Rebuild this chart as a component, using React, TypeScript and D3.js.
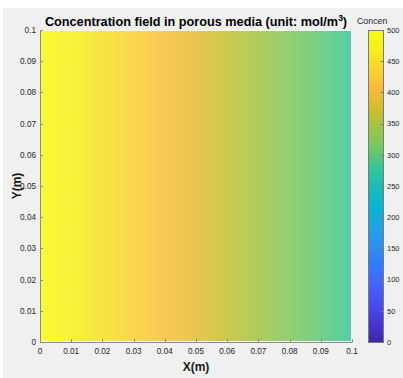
import React from "react";
import * as d3 from "d3";

// concentration profile along X (mol/m^3), nearly uniform in Y
const xNodes = [0, 0.01, 0.02, 0.03, 0.04, 0.05, 0.06, 0.07, 0.08, 0.09, 0.1];
const concValues = [495, 472, 452, 432, 413, 390, 367, 346, 325, 302, 282];

const xTicks = [0, 0.01, 0.02, 0.03, 0.04, 0.05, 0.06, 0.07, 0.08, 0.09, 0.1];
const yTicks = [0, 0.01, 0.02, 0.03, 0.04, 0.05, 0.06, 0.07, 0.08, 0.09, 0.1];
const cbTicks = [0, 50, 100, 150, 200, 250, 300, 350, 400, 450, 500];

// parula (every 4th entry of the 64 colour map)
const parula = [
  "#3e26a8", "#4538d5", "#484ef0", "#4563fd", "#327bfc", "#2b91ef",
  "#20a5e2", "#08b4d0", "#19bdb6", "#37c597", "#71c964", "#9dc445",
  "#d1bd2a", "#f8ba3e", "#f9d32e", "#f4ef1a", "#f9fb15",
];

const W = 403;
const H = 378;
const font = "'Liberation Sans', Arial, Helvetica, sans-serif";

export default function App() {
  const left = 40, right = 352, top = 30, bottom = 342;
  const x = d3.scaleLinear().domain([0, 0.1]).range([left, right]);
  const y = d3.scaleLinear().domain([0, 0.1]).range([bottom, top]);
  const cb = d3.scaleLinear().domain([0, 500]).range([bottom, top]);
  const cbX0 = 368, cbX1 = 383;

  const color = d3
    .scaleLinear<string>()
    .domain(parula.map((_, i) => (i / (parula.length - 1)) * 500))
    .range(parula)
    .interpolate(d3.interpolateRgb)
    .clamp(true);

  const fmt = (v: number) => (v === 0 ? "0" : d3.format("~g")(v));
  const fx0 = x(xNodes[0]) + 1;
  const fx1 = x(xNodes[xNodes.length - 1]) - 1;

  return (
    <div style={{ position: "absolute", left: 0, top: 0 }}>
      <svg width={W} height={H} style={{ display: "block" }} fontFamily={font}>
        <defs>
          <linearGradient id="field" x1="0" x2="1" y1="0" y2="0">
            {xNodes.map((xv, i) => (
              <stop
                key={i}
                offset={(x(xv) - x(0)) / (x(0.1) - x(0))}
                stopColor={color(concValues[i])}
              />
            ))}
          </linearGradient>
          <linearGradient id="cbar" x1="0" x2="0" y1="1" y2="0">
            {parula.map((c, i) => (
              <stop key={i} offset={i / (parula.length - 1)} stopColor={c} />
            ))}
          </linearGradient>
        </defs>
        <rect x={0} y={0} width={W} height={H} fill="#ffffff" />
        <rect x={3} y={8} width={W - 3} height={H - 8} fill="#f0f0f0" />

        {/* axes background and field */}
        <rect x={left} y={top} width={right - left} height={bottom - top} fill="#ffffff" />
        <rect
          x={fx0}
          y={y(0.1) + 1}
          width={fx1 - fx0}
          height={y(0) - y(0.1) - 2}
          fill="url(#field)"
          fillOpacity={0.86}
        />

        {/* axes lines */}
        <line x1={left + 0.5} x2={left + 0.5} y1={top} y2={bottom + 0.5} stroke="#8a8a8a" />
        <line x1={left} x2={right + 0.5} y1={bottom + 0.5} y2={bottom + 0.5} stroke="#8a8a8a" />
        {xTicks.map((t) => (
          <g key={"x" + t}>
            <line
              x1={Math.round(x(t)) + 0.5}
              x2={Math.round(x(t)) + 0.5}
              y1={bottom}
              y2={bottom - 3}
              stroke="#8a8a8a"
            />
            <text x={x(t)} y={354} fontSize={8.2} fill="#262626" textAnchor="middle">
              {fmt(t)}
            </text>
          </g>
        ))}
        {yTicks.map((t) => (
          <g key={"y" + t}>
            <line
              x1={left}
              x2={left + 3}
              y1={Math.round(y(t)) + 0.5}
              y2={Math.round(y(t)) + 0.5}
              stroke="#8a8a8a"
            />
            <text x={36} y={y(t) + 3} fontSize={8.2} fill="#262626" textAnchor="end">
              {fmt(t)}
            </text>
          </g>
        ))}

        {/* titles */}
        <text x={(left + right) / 2} y={25.5} fontSize={12.7} fontWeight="bold" fill="#000" textAnchor="middle">
          Concentration field in porous media (unit: mol/m
          <tspan dy={-5} fontSize={8.5}>3</tspan>
          <tspan dy={5}>)</tspan>
        </text>
        <text x={(left + right) / 2} y={371} fontSize={12} fontWeight="bold" fill="#1a1a1a" textAnchor="middle">
          X(m)
        </text>
        <text
          transform={`translate(21,${(top + bottom) / 2}) rotate(-90)`}
          fontSize={12}
          fontWeight="bold"
          fill="#1a1a1a"
          textAnchor="middle"
        >
          Y(m)
        </text>

        {/* colorbar */}
        <rect
          x={cbX0 + 0.5}
          y={cb(500) + 0.5}
          width={cbX1 - cbX0}
          height={cb(0) - cb(500)}
          fill="url(#cbar)"
          stroke="#7a7a7a"
        />
        {cbTicks.map((t) => (
          <g key={"c" + t}>
            <line
              x1={cbX1 - 2.5}
              x2={cbX1 + 0.5}
              y1={Math.round(cb(t)) + 0.5}
              y2={Math.round(cb(t)) + 0.5}
              stroke="#7a7a7a"
            />
            <text x={387} y={cb(t) + 2.7} fontSize={7.5} fill="#262626">
              {t}
            </text>
          </g>
        ))}
        <text x={357} y={23.5} fontSize={8.8} fill="#262626">
          Concen
        </text>
      </svg>
    </div>
  );
}
